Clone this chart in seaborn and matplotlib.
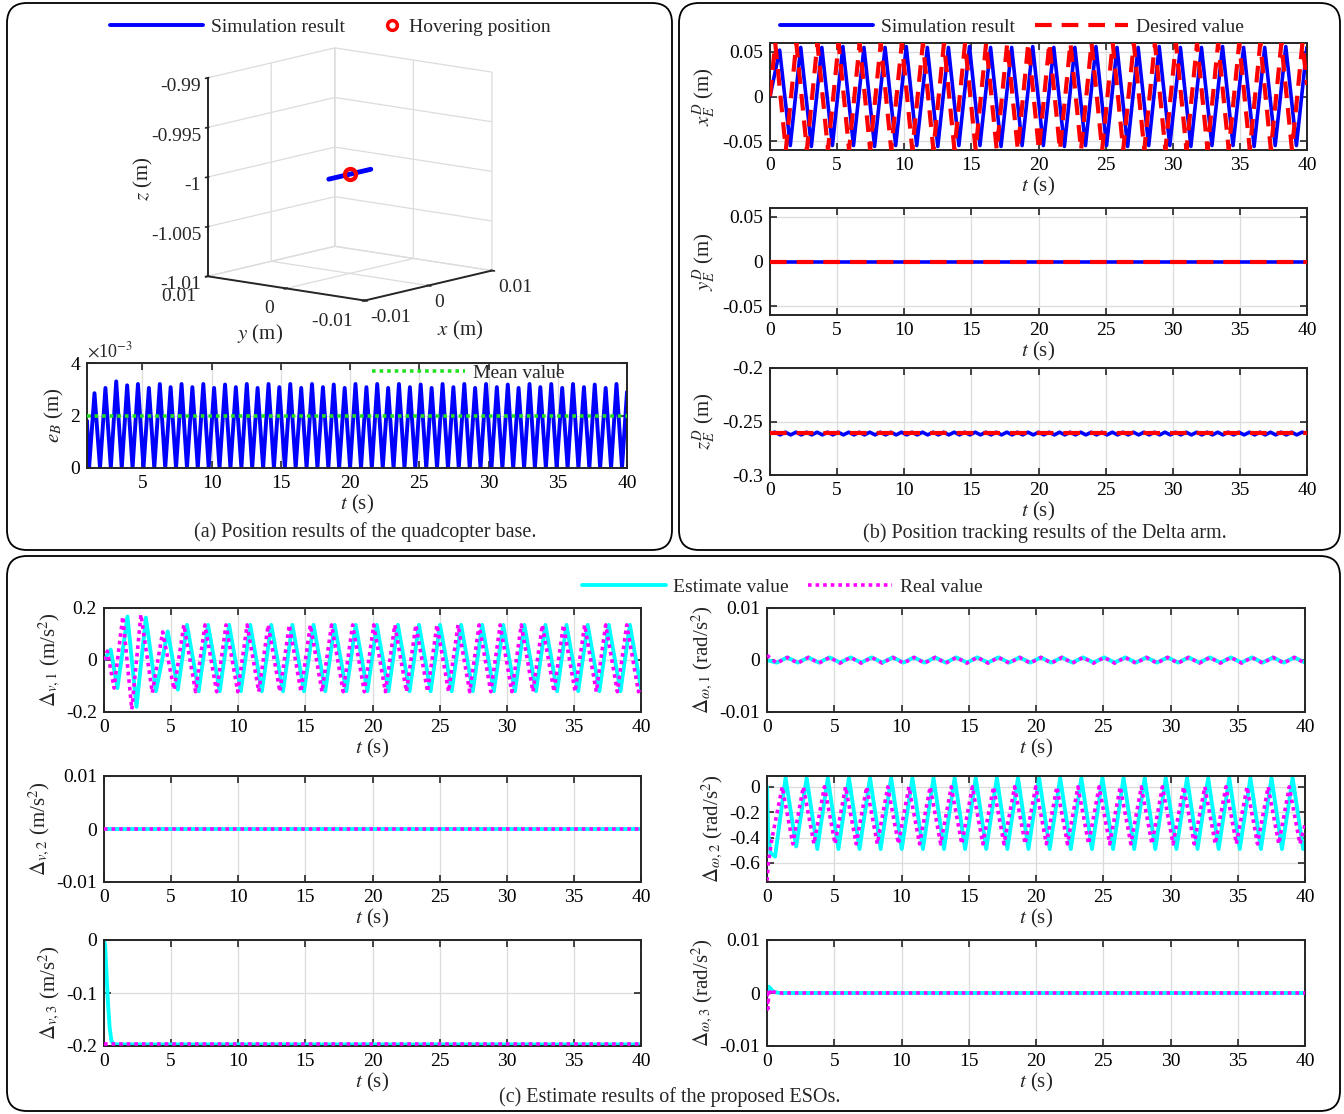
import numpy as np
import matplotlib
matplotlib.use("Agg")
import matplotlib.pyplot as plt
import seaborn as sns
from matplotlib.patches import FancyBboxPatch
from matplotlib.lines import Line2D

# ======================= DATA =======================
# (a) 3D: base trajectory and hovering point
base_x = [-0.0033, -0.0016, 0.0, 0.0016, 0.0033]
base_y = [0.0, 0.0, 0.0, 0.0, 0.0]
base_z = [-1.0, -1.0, -1.0, -1.0, -1.0]
hover_x, hover_y, hover_z = [0.0], [0.0], [-1.0]
z_ticks = [-1.01, -1.005, -1.0, -0.995, -0.99]
z_ticklabels = ["-1.01", "-1.005", "-1", "-0.995", "-0.99"]
xy_ticks = [-0.01, 0, 0.01]
xy_ticklabels = ["-0.01", "0", "0.01"]

# (a) e_B (x 1e-3 m): turning points of |error|
eB_ext_t = [1.15, 1.54, 1.94, 2.33, 2.72, 3.11, 3.51, 3.90, 4.29, 4.68,
            5.08, 5.47, 5.86, 6.26, 6.65, 7.04, 7.43, 7.83, 8.22, 8.61,
            9.00, 9.40, 9.79, 10.18, 10.57, 10.97, 11.36, 11.75, 12.15, 12.54,
            12.93, 13.32, 13.72, 14.11, 14.50, 14.89, 15.29, 15.68, 16.07, 16.47,
            16.86, 17.25, 17.64, 18.04, 18.43, 18.82, 19.21, 19.61, 20.00, 20.39,
            20.79, 21.18, 21.57, 21.96, 22.36, 22.75, 23.14, 23.53, 23.93, 24.32,
            24.71, 25.10, 25.50, 25.89, 26.28, 26.68, 27.07, 27.46, 27.85, 28.25,
            28.64, 29.03, 29.42, 29.82, 30.21, 30.60, 31.00, 31.39, 31.78, 32.17,
            32.57, 32.96, 33.35, 33.74, 34.14, 34.53, 34.92, 35.32, 35.71, 36.10,
            36.49, 36.89, 37.28, 37.67, 38.06, 38.46, 38.85, 39.24, 39.64]
eB_ext_v = [0.0, 2.85, 0.0, 3.05, 0.0, 3.30, 0.0, 3.15, 0.0, 3.20,
            0.0, 3.05, 0.0, 3.20, 0.0, 3.08, 0.0, 3.20, 0.0, 3.08,
            0.0, 3.20, 0.0, 3.05, 0.0, 3.18, 0.0, 3.08, 0.0, 3.20,
            0.0, 3.05, 0.0, 3.20, 0.0, 3.08, 0.0, 3.20, 0.0, 3.05,
            0.0, 3.20, 0.0, 3.08, 0.0, 3.18, 0.0, 3.05, 0.0, 3.20,
            0.0, 3.08, 0.0, 3.20, 0.0, 3.05, 0.0, 3.20, 0.0, 3.08,
            0.0, 3.18, 0.0, 3.05, 0.0, 3.20, 0.0, 3.08, 0.0, 3.20,
            0.0, 3.05, 0.0, 3.20, 0.0, 3.08, 0.0, 3.18, 0.0, 3.05,
            0.0, 3.20, 0.0, 3.08, 0.0, 3.20, 0.0, 3.05, 0.0, 3.20,
            0.0, 3.08, 0.0, 3.18, 0.0, 3.05, 0.0, 3.20, 0.0]
eB_start = (1.0, 1.8)
eB_end = (40.0, 2.9)
eB_mean_t = [1.0, 40.0]
eB_mean_v = [2.0, 2.0]

# (b) x_E^D: desired (red) and simulated (blue)
xE_des_t = [0.00, 0.39, 1.18, 1.96, 2.75, 3.53, 4.32, 5.11, 5.89, 6.68,
            7.46, 8.25, 9.03, 9.82, 10.60, 11.39, 12.17, 12.96, 13.74, 14.53,
            15.32, 16.10, 16.89, 17.67, 18.46, 19.24, 20.03, 20.81, 21.60, 22.38,
            23.17, 23.95, 24.74, 25.53, 26.31, 27.10, 27.88, 28.67, 29.45, 30.24,
            31.02, 31.81, 32.59, 33.38, 34.17, 34.95, 35.74, 36.52, 37.31, 38.09,
            38.88, 39.66, 40.00]
xE_des_v = [0.0, 0.06, -0.06, 0.06, -0.06, 0.06, -0.06, 0.06, -0.06, 0.06,
            -0.06, 0.06, -0.06, 0.06, -0.06, 0.06, -0.06, 0.06, -0.06, 0.06,
            -0.06, 0.06, -0.06, 0.06, -0.06, 0.06, -0.06, 0.06, -0.06, 0.06,
            -0.06, 0.06, -0.06, 0.06, -0.06, 0.06, -0.06, 0.06, -0.06, 0.06,
            -0.06, 0.06, -0.06, 0.06, -0.06, 0.06, -0.06, 0.06, -0.06, 0.06,
            -0.06, 0.06, 0.013]
xE_sim_t = [0.00, 0.72, 1.51, 2.29, 3.08, 3.86, 4.65, 5.43, 6.22, 7.00,
            7.79, 8.57, 9.36, 10.15, 10.93, 11.72, 12.50, 13.29, 14.07, 14.86,
            15.64, 16.43, 17.21, 18.00, 18.78, 19.57, 20.36, 21.14, 21.93, 22.71,
            23.50, 24.28, 25.07, 25.85, 26.64, 27.42, 28.21, 28.99, 29.78, 30.57,
            31.35, 32.14, 32.92, 33.71, 34.49, 35.28, 36.06, 36.85, 37.63, 38.42,
            39.21, 39.99]
xE_sim_v = [0.0, 0.052, -0.055, 0.055, -0.056, 0.055, -0.055, 0.056, -0.055, 0.055,
            -0.056, 0.055, -0.055, 0.056, -0.055, 0.055, -0.056, 0.055, -0.055, 0.056,
            -0.055, 0.055, -0.056, 0.055, -0.055, 0.056, -0.055, 0.055, -0.056, 0.055,
            -0.055, 0.056, -0.055, 0.055, -0.056, 0.055, -0.055, 0.056, -0.055, 0.055,
            -0.056, 0.055, -0.055, 0.056, -0.055, 0.055, -0.056, 0.055, -0.055, 0.056,
            -0.055, 0.055]

# (b) y_E^D
yE_t = [0.0, 40.0]
yE_des_v = [0.0, 0.0]
yE_sim_v = [0.0, 0.0]

# (b) z_E^D
zE_des_t = [0.0, 40.0]
zE_des_v = [-0.261, -0.261]
zE_sim_t = [0.0, 0.37, 0.76] + eB_ext_t + [40.0]
zE_sim_v = [-0.2612, -0.2600, -0.2625,
            -0.2600, -0.2625, -0.2600, -0.2625, -0.2600, -0.2625, -0.2600, -0.2625, -0.2600, -0.2625,
            -0.2600, -0.2625, -0.2600, -0.2625, -0.2600, -0.2625, -0.2600, -0.2625, -0.2600, -0.2625,
            -0.2600, -0.2625, -0.2600, -0.2625, -0.2600, -0.2625, -0.2600, -0.2625, -0.2600, -0.2625,
            -0.2600, -0.2625, -0.2600, -0.2625, -0.2600, -0.2625, -0.2600, -0.2625, -0.2600, -0.2625,
            -0.2600, -0.2625, -0.2600, -0.2625, -0.2600, -0.2625, -0.2600, -0.2625, -0.2600, -0.2625,
            -0.2600, -0.2625, -0.2600, -0.2625, -0.2600, -0.2625, -0.2600, -0.2625, -0.2600, -0.2625,
            -0.2600, -0.2625, -0.2600, -0.2625, -0.2600, -0.2625, -0.2600, -0.2625, -0.2600, -0.2625,
            -0.2600, -0.2625, -0.2600, -0.2625, -0.2600, -0.2625, -0.2600, -0.2625, -0.2600, -0.2625,
            -0.2600, -0.2625, -0.2600, -0.2625, -0.2600, -0.2625, -0.2600, -0.2625, -0.2600, -0.2625,
            -0.2600, -0.2625, -0.2600, -0.2625, -0.2600, -0.2625, -0.2600, -0.2625, -0.2600,
            -0.2610]

# (c) Delta_{v,1}
dv1_est_t = [0.0, 0.5, 1.0, 1.75, 2.42, 3.12, 3.87, 4.75, 5.5,
             6.18, 7.05, 7.75, 8.62, 9.32, 10.19, 10.89, 11.76, 12.46, 13.33,
             14.03, 14.90, 15.61, 16.48, 17.18, 18.05, 18.75, 19.62, 20.32, 21.19,
             21.89, 22.76, 23.46, 24.33, 25.03, 25.90, 26.60, 27.47, 28.17, 29.04,
             29.74, 30.61, 31.31, 32.18, 32.88, 33.75, 34.45, 35.32, 36.03, 36.90,
             37.60, 38.47, 39.17, 40.0]
dv1_est_v = [0.0, 0.04, -0.108, 0.167, -0.18, 0.163, -0.12, 0.11, -0.114,
             0.135, -0.12, 0.135, -0.12, 0.135, -0.12, 0.135, -0.12, 0.135, -0.12,
             0.135, -0.12, 0.135, -0.12, 0.135, -0.12, 0.135, -0.12, 0.135, -0.12,
             0.135, -0.12, 0.135, -0.12, 0.135, -0.12, 0.135, -0.12, 0.135, -0.12,
             0.135, -0.12, 0.135, -0.12, 0.135, -0.12, 0.135, -0.12, 0.135, -0.12,
             0.135, -0.12, 0.135, -0.11]
dv1_real_t = [0.0, 0.25, 0.75, 1.4, 2.07, 2.75, 3.6, 4.37, 5.22,
              5.95, 6.82, 7.52, 8.39, 9.09, 9.96, 10.66, 11.53, 12.23, 13.10,
              13.80, 14.67, 15.37, 16.24, 16.95, 17.82, 18.52, 19.39, 20.09, 20.96,
              21.66, 22.53, 23.23, 24.10, 24.80, 25.67, 26.37, 27.24, 27.94, 28.81,
              29.51, 30.38, 31.08, 31.95, 32.65, 33.52, 34.22, 35.09, 35.80, 36.67,
              37.37, 38.24, 38.94, 39.81, 40.0]
dv1_real_v = [0.0, 0.034, -0.108, 0.167, -0.19, 0.175, -0.126, 0.108, -0.114,
              0.135, -0.122, 0.135, -0.122, 0.135, -0.122, 0.135, -0.122, 0.135, -0.122,
              0.135, -0.122, 0.135, -0.122, 0.135, -0.122, 0.135, -0.122, 0.135, -0.122,
              0.135, -0.122, 0.135, -0.122, 0.135, -0.122, 0.135, -0.122, 0.135, -0.122,
              0.135, -0.122, 0.135, -0.122, 0.135, -0.122, 0.135, -0.122, 0.135, -0.122,
              0.135, -0.122, 0.135, -0.122, -0.10]

# (c) Delta_{omega,1}  (turning points share the x_E^D simulation instants)
dw1_t = xE_sim_t
dw1_est_v = [0.0, -0.0005, 0.0005, -0.0005, 0.0005, -0.0005, 0.0005, -0.0005, 0.0005, -0.0005,
             0.0005, -0.0005, 0.0005, -0.0005, 0.0005, -0.0005, 0.0005, -0.0005, 0.0005, -0.0005,
             0.0005, -0.0005, 0.0005, -0.0005, 0.0005, -0.0005, 0.0005, -0.0005, 0.0005, -0.0005,
             0.0005, -0.0005, 0.0005, -0.0005, 0.0005, -0.0005, 0.0005, -0.0005, 0.0005, -0.0005,
             0.0005, -0.0005, 0.0005, -0.0005, 0.0005, -0.0005, 0.0005, -0.0005, 0.0005, -0.0005,
             0.0005, -0.0005]
dw1_real_v = [0.0009, -0.0006, 0.0005, -0.0006, 0.0005, -0.0006, 0.0005, -0.0006, 0.0005, -0.0006,
              0.0005, -0.0006, 0.0005, -0.0006, 0.0005, -0.0006, 0.0005, -0.0006, 0.0005, -0.0006,
              0.0005, -0.0006, 0.0005, -0.0006, 0.0005, -0.0006, 0.0005, -0.0006, 0.0005, -0.0006,
              0.0005, -0.0006, 0.0005, -0.0006, 0.0005, -0.0006, 0.0005, -0.0006, 0.0005, -0.0006,
              0.0005, -0.0006, 0.0005, -0.0006, 0.0005, -0.0006, 0.0005, -0.0006, 0.0005, -0.0006,
              0.0005, -0.0006]

# (c) Delta_{v,2}
dv2_t = [0.0, 40.0]
dv2_est_v = [0.0, 0.0]
dv2_real_v = [0.0, 0.0]

# (c) Delta_{omega,2}
dw2_est_t = [0.0, 0.08, 0.25, 0.6,
             1.38, 2.17, 2.95, 3.74, 4.52, 5.31, 6.09, 6.88, 7.66, 8.45,
             9.23, 10.02, 10.81, 11.59, 12.38, 13.16, 13.95, 14.73, 15.52, 16.30,
             17.09, 17.87, 18.66, 19.44, 20.23, 21.02, 21.80, 22.59, 23.37, 24.16,
             24.94, 25.73, 26.51, 27.30, 28.08, 28.87, 29.65, 30.44, 31.23, 32.01,
             32.80, 33.58, 34.37, 35.15, 35.94, 36.72, 37.51, 38.29, 39.08, 39.86,
             40.0]
dw2_est_v = [0.0, -0.35, -0.52, -0.55,
             0.07, -0.47, 0.07, -0.49, 0.07, -0.49, 0.07, -0.49, 0.07, -0.49,
             0.07, -0.49, 0.07, -0.49, 0.07, -0.49, 0.07, -0.49, 0.07, -0.49,
             0.07, -0.49, 0.07, -0.49, 0.07, -0.49, 0.07, -0.49, 0.07, -0.49,
             0.07, -0.49, 0.07, -0.49, 0.07, -0.49, 0.07, -0.49, 0.07, -0.49,
             0.07, -0.49, 0.07, -0.49, 0.07, -0.49, 0.07, -0.49, 0.07, -0.49,
             -0.45]
dw2_real_t = [0.0, 0.1, 0.35,
              1.13, 1.92, 2.70, 3.49, 4.27, 5.06, 5.84, 6.63, 7.41, 8.20,
              8.98, 9.77, 10.55, 11.34, 12.13, 12.91, 13.70, 14.48, 15.27, 16.05,
              16.84, 17.62, 18.41, 19.19, 19.98, 20.77, 21.55, 22.34, 23.12, 23.91,
              24.69, 25.48, 26.26, 27.05, 27.83, 28.62, 29.40, 30.19, 30.98, 31.76,
              32.55, 33.33, 34.12, 34.90, 35.69, 36.47, 37.26, 38.05, 38.83, 39.62,
              40.0]
dw2_real_v = [-0.74, -0.60, -0.42,
              0.0, -0.45, 0.0, -0.45, 0.0, -0.45, 0.0, -0.45, 0.0, -0.45,
              0.0, -0.45, 0.0, -0.45, 0.0, -0.45, 0.0, -0.45, 0.0, -0.45,
              0.0, -0.45, 0.0, -0.45, 0.0, -0.45, 0.0, -0.45, 0.0, -0.45,
              0.0, -0.45, 0.0, -0.45, 0.0, -0.45, 0.0, -0.45, 0.0, -0.45,
              0.0, -0.45, 0.0, -0.45, 0.0, -0.45, 0.0, -0.45, 0.0, -0.45,
              -0.30]

# (c) Delta_{v,3}
dv3_est_t = [0.0, 0.08, 0.18, 0.3, 0.42, 0.55, 0.7, 40.0]
dv3_est_v = [0.0, -0.01, -0.06, -0.12, -0.165, -0.19, -0.197, -0.197]
dv3_real_t = [0.0, 40.0]
dv3_real_v = [-0.197, -0.197]

# (c) Delta_{omega,3}
dw3_est_t = [0.0, 0.1, 0.25, 0.45, 0.7, 1.0, 40.0]
dw3_est_v = [0.0, 0.0012, 0.0009, 0.0003, 0.0001, 0.0, 0.0]
dw3_real_t = [0.0, 0.06, 0.15, 0.3, 0.5, 0.8, 40.0]
dw3_real_v = [0.0, -0.003, 0.0008, -0.0004, 0.0002, 0.0, 0.0]

t_ticks = [0, 5, 10, 15, 20, 25, 30, 35, 40]

# ======================= STYLE =======================
sns.set_theme(style="ticks")
plt.rcParams.update({
    "font.family": ["Liberation Serif", "DejaVu Serif"],
    "mathtext.fontset": "stix",
    "axes.unicode_minus": False,
    "grid.color": "#dcdcdc",
    "grid.linewidth": 0.9,
    "axes.edgecolor": "#262626",
    "axes.linewidth": 1.4,
    "font.size": 14,
})

W, H = 1344.0, 1114.0
fig = plt.figure(figsize=(W / 100, H / 100), dpi=100)


def rect(x0, x1, y0, y1):
    return [x0 / W, 1 - y1 / H, (x1 - x0) / W, (y1 - y0) / H]


def line(ax, t, v, color, lw, ls="-", z=2):
    sns.lineplot(x=np.asarray(t, float), y=np.asarray(v, float), ax=ax,
                 color=color, linewidth=lw, linestyle=ls, estimator=None,
                 sort=False, legend=False, zorder=z)


def style2d(ax, ylim, yticks, ylabels, ylabel, xlim=(0, 40), xticks=t_ticks):
    ax.set_xlim(*xlim)
    ax.set_ylim(*ylim)
    ax.set_xticks(xticks)
    ax.set_xticklabels([str(v) for v in xticks])
    ax.set_yticks(yticks)
    ax.set_yticklabels(ylabels)
    ax.grid(True, color="#dcdcdc", lw=0.9)
    ax.set_axisbelow(True)
    for s in ax.spines.values():
        s.set_linewidth(1.4)
        s.set_color("#262626")
        s.set_visible(True)
    ax.tick_params(direction="in", top=True, right=True, length=5, width=1.2,
                   labelsize=14, pad=5, color="#262626", labelcolor="black")
    ax.set_xlabel("$t$ (s)", fontsize=15, labelpad=1)
    ax.set_ylabel(ylabel, fontsize=15, labelpad=3)
    ax.set_facecolor("white")


BLUE, RED, CYAN, MAG, GREEN = "#0000ff", "#ff0000", "#00ffff", "#ff00ff", "#22e022"
DASH = (0, (4, 2.4))
DOT = (0, (1, 1.1))

# ---------- rounded panel frames ----------
for (x0, x1, y0, y1) in [(7, 672, 3, 550), (679, 1340, 3, 550), (7, 1340, 556, 1111)]:
    fb = FancyBboxPatch(((x0) / 100, (H - y1) / 100), (x1 - x0) / 100, (y1 - y0) / 100,
                        boxstyle="round,pad=0,rounding_size=0.2",
                        transform=fig.dpi_scale_trans, facecolor="none",
                        edgecolor="black", lw=1.3, zorder=10)
    fig.add_artist(fb)

# ---------- (a) 3D ----------
ax3 = fig.add_axes(rect(105, 585, 2, 356), projection="3d")
ax3.set_proj_type("ortho")
ax3.view_init(elev=11, azim=-141)
ax3.set_box_aspect((1, 1, 1), zoom=0.96)
ax3.set_xlim(-0.01, 0.01)
ax3.set_ylim(-0.01, 0.01)
ax3.set_zlim(-1.01, -0.99)
ax3.set_xticks(xy_ticks)
ax3.set_xticklabels(xy_ticklabels)
ax3.set_yticks(xy_ticks)
ax3.set_yticklabels([s + " " for s in xy_ticklabels])
ax3.set_zticks(z_ticks)
ax3.set_zticklabels(z_ticklabels)
ax3.patch.set_alpha(0)
for axis in (ax3.xaxis, ax3.yaxis, ax3.zaxis):
    axis.set_pane_color((1, 1, 1, 0))
    axis.pane.set_edgecolor("#262626")
    axis.pane.set_linewidth(1.4)
    axis.line.set_color("#262626")
    axis.line.set_linewidth(1.4)
    axis._axinfo["grid"].update(color="#dcdcdc", linewidth=0.9)
    axis.set_rotate_label(False)
ax3.tick_params(labelsize=14)
ax3.xaxis.set_tick_params(pad=-3)
ax3.yaxis.set_tick_params(pad=-1)
ax3.zaxis.set_tick_params(pad=-5)
for tl in ax3.get_xticklabels():
    tl.set_ha("left")
for tl in ax3.get_yticklabels():
    tl.set_ha("right")
for tl in ax3.get_zticklabels():
    tl.set_ha("right")
ax3.set_xlabel("$x$ (m)", fontsize=15, labelpad=6, rotation=0)
ax3.set_ylabel("$y$ (m)", fontsize=15, labelpad=6, rotation=0)
ax3.set_zlabel("$z$ (m)", fontsize=15, labelpad=9, rotation=90)

ax3.plot(base_x, base_y, base_z, color=BLUE, lw=3.5, zorder=3)
ax3.plot(hover_x, hover_y, hover_z, marker="o", ms=8, mfc="none", mec=RED, mew=3, ls="none", zorder=4)

# ---------- (a) e_B ----------
axe = fig.add_axes(rect(87, 627, 363, 468))
line(axe, [eB_start[0]] + eB_ext_t + [eB_end[0]], [eB_start[1]] + eB_ext_v + [eB_end[1]], BLUE, 2.8)
line(axe, eB_mean_t, eB_mean_v, GREEN, 2.6, DOT, z=3)
style2d(axe, (0, 4), [0, 2, 4], ["0", "2", "4"], "$e_B$ (m)", xlim=(1, 40), xticks=t_ticks[1:])
axe.text(0.0, 1.02, r"$\times$10$^{\mathrm{-3}}$", transform=axe.transAxes, fontsize=13,
         ha="left", va="bottom")
axe.legend([Line2D([], [], color=GREEN, lw=2.6, ls=DOT)], ["Mean value"],
           loc="center left", bbox_to_anchor=(372 / W, 1 - 373 / H), bbox_transform=fig.transFigure,
           frameon=False, borderpad=0, borderaxespad=0, handlelength=4.8, handletextpad=0.4, fontsize=14)

# ---------- (b) ----------
axx = fig.add_axes(rect(770, 1307, 43, 150))
line(axx, xE_sim_t, xE_sim_v, BLUE, 2.6)
line(axx, xE_des_t, xE_des_v, RED, 3.0, DASH, z=3)
style2d(axx, (-0.06, 0.06), [-0.05, 0, 0.05], ["-0.05", "0", "0.05"], "$x_E^D$ (m)")

axy = fig.add_axes(rect(770, 1307, 208, 315))
line(axy, yE_t, yE_sim_v, BLUE, 2.6)
line(axy, yE_t, yE_des_v, RED, 3.0, DASH, z=3)
style2d(axy, (-0.06, 0.06), [-0.05, 0, 0.05], ["-0.05", "0", "0.05"], "$y_E^D$ (m)")

axz = fig.add_axes(rect(770, 1307, 368, 475))
line(axz, zE_sim_t, zE_sim_v, BLUE, 2.6)
line(axz, zE_des_t, zE_des_v, RED, 3.0, DASH, z=3)
style2d(axz, (-0.3, -0.2), [-0.3, -0.25, -0.2], ["-0.3", "-0.25", "-0.2"], "$z_E^D$ (m)")

# ---------- (c) ----------
rows = [(608, 712), (776, 882), (940, 1046)]
colx = [(104, 641), (767, 1305)]

a11 = fig.add_axes(rect(*colx[0], *rows[0]))
line(a11, dv1_est_t, dv1_est_v, CYAN, 2.8)
line(a11, dv1_real_t, dv1_real_v, MAG, 2.6, DOT, z=3)
style2d(a11, (-0.2, 0.2), [-0.2, 0, 0.2], ["-0.2", "0", "0.2"], r"$\Delta_{v,\mathit{1}}$ (m/s$^2$)")

a12 = fig.add_axes(rect(*colx[1], *rows[0]))
line(a12, dw1_t, dw1_est_v, CYAN, 2.8)
line(a12, dw1_t, dw1_real_v, MAG, 2.6, DOT, z=3)
style2d(a12, (-0.01, 0.01), [-0.01, 0, 0.01], ["-0.01", "0", "0.01"], r"$\Delta_{\omega,\mathit{1}}$ (rad/s$^2$)")

a21 = fig.add_axes(rect(*colx[0], *rows[1]))
line(a21, dv2_t, dv2_est_v, CYAN, 2.8)
line(a21, dv2_t, dv2_real_v, MAG, 2.6, DOT, z=3)
style2d(a21, (-0.01, 0.01), [-0.01, 0, 0.01], ["-0.01", "0", "0.01"], r"$\Delta_{v,\mathit{2}}$ (m/s$^2$)")

a22 = fig.add_axes(rect(*colx[1], *rows[1]))
line(a22, dw2_est_t, dw2_est_v, CYAN, 2.8)
line(a22, dw2_real_t, dw2_real_v, MAG, 2.6, DOT, z=3)
style2d(a22, (-0.75, 0.085), [-0.6, -0.4, -0.2, 0], ["-0.6", "-0.4", "-0.2", "0"], r"$\Delta_{\omega,\mathit{2}}$ (rad/s$^2$)")

a31 = fig.add_axes(rect(*colx[0], *rows[2]))
line(a31, dv3_est_t, dv3_est_v, CYAN, 2.8)
line(a31, dv3_real_t, dv3_real_v, MAG, 2.6, DOT, z=3)
style2d(a31, (-0.2, 0.0), [-0.2, -0.1, 0], ["-0.2", "-0.1", "0"], r"$\Delta_{v,\mathit{3}}$ (m/s$^2$)")

a32 = fig.add_axes(rect(*colx[1], *rows[2]))
line(a32, dw3_est_t, dw3_est_v, CYAN, 2.8)
line(a32, dw3_real_t, dw3_real_v, MAG, 2.6, DOT, z=3)
style2d(a32, (-0.01, 0.01), [-0.01, 0, 0.01], ["-0.01", "0", "0.01"], r"$\Delta_{\omega,\mathit{3}}$ (rad/s$^2$)")

# ---------- legends ----------
def fig_legend(handles, labels, x_px, y_px, **kw):
    lg = fig.legend(handles, labels, loc="center left", bbox_to_anchor=(x_px / W, 1 - y_px / H),
                    bbox_transform=fig.transFigure, frameon=False, borderpad=0,
                    borderaxespad=0, fontsize=14, **kw)
    return lg

fig_legend([Line2D([], [], color=BLUE, lw=2.8)], ["Simulation result"], 110, 27,
           handlelength=4.8, handletextpad=0.4)
fig_legend([Line2D([], [], color=RED, marker="o", ms=7, mfc="none", mew=2.5, ls="none")],
           ["Hovering position"], 382, 27, handlelength=1.0, handletextpad=0.4)
fig_legend([Line2D([], [], color=BLUE, lw=2.8), Line2D([], [], color=RED, lw=3.0, ls=DASH)],
           ["Simulation result", "Desired value"], 780, 27, ncol=2,
           handlelength=4.8, handletextpad=0.4, columnspacing=1.0)
fig_legend([Line2D([], [], color=CYAN, lw=2.8), Line2D([], [], color=MAG, lw=2.6, ls=DOT)],
           ["Estimate value", "Real value"], 582, 587, ncol=2,
           handlelength=4.3, handletextpad=0.4, columnspacing=1.0)

# ---------- captions ----------
fig.text(365 / W, 1 - 532 / H, "(a) Position results of the quadcopter base.", ha="center", va="center", fontsize=14.5)
fig.text(1045 / W, 1 - 533 / H, "(b) Position tracking results of the Delta arm.", ha="center", va="center", fontsize=14.5)
fig.text(670 / W, 1 - 1097 / H, "(c) Estimate results of the proposed ESOs.", ha="center", va="center", fontsize=14.5)

fig.savefig("out.png", dpi=100)
